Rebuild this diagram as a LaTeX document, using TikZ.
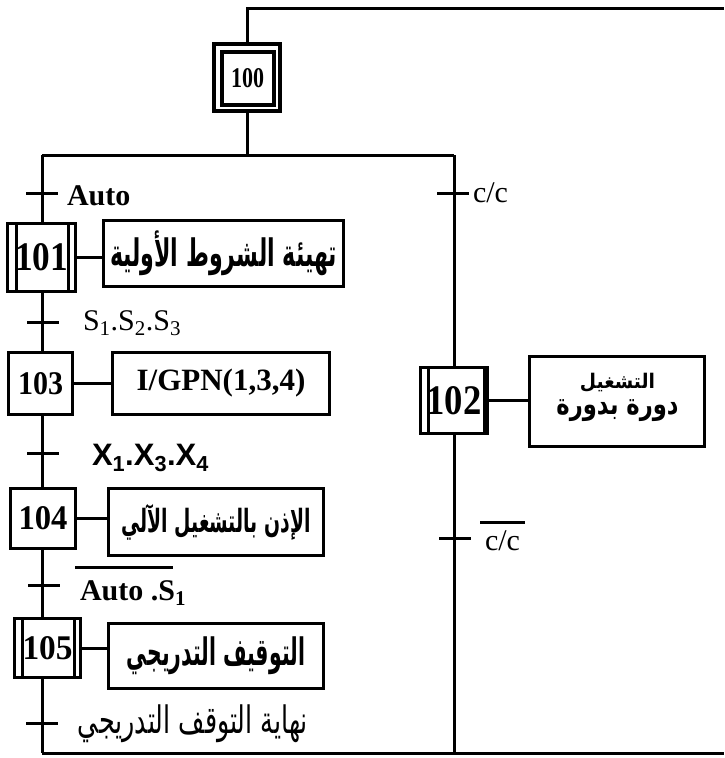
\documentclass[tikz,border=0pt]{standalone}
\usepackage{fontspec}
\usepackage{graphicx}
\setmainfont{Liberation Serif}
\newfontfamily\arabicfont[Script=Arabic]{DejaVu Sans}
\newfontfamily\arialfont{Liberation Sans}
\TeXXeTstate=1
\newcommand\artxt[3]{\resizebox*{#1}{#2}{\arabicfont #3}}
\newcommand\artxtb[3]{\resizebox*{#1}{#2}{\arabicfont\bfseries #3}}
\newcommand\stepnum[3]{\resizebox{#1}{#2}{\bfseries #3}}
\begin{document}
\begin{tikzpicture}[x=1pt,y=-1pt,line width=3pt,
  stepbox/.style={draw,line width=3pt,inner sep=0pt,outer sep=0pt,rectangle},
  actbox/.style={draw,line width=3pt,inner sep=0pt,outer sep=0pt,rectangle},
  tick/.style={fill=black,inner sep=0pt,outer sep=0pt,minimum height=3pt,minimum width=32pt},
  lbl/.style={inner sep=0pt,outer sep=0pt,anchor=base west}]
\useasboundingbox (0,0) rectangle (724,758);

% initial step 100
\node[draw,line width=4pt,inner sep=0pt,outer sep=0pt,minimum width=66pt,minimum height=67pt] (s100o) at (247,77) {};
\node[draw,line width=4pt,inner sep=0pt,outer sep=0pt,minimum width=52pt,minimum height=53pt] (s100) at (247.5,78) {\stepnum{33pt}{19pt}{100}};

% steps
\node[stepbox,minimum width=68pt,minimum height=68pt] (s101) at (41.5,257.5) {\stepnum{53pt}{27pt}{101}};
\node[stepbox,minimum width=64pt,minimum height=62pt] (s103) at (40.5,383.5) {\stepnum{45pt}{22pt}{103}};
\node[stepbox,minimum width=65pt,minimum height=60pt] (s104) at (43,518.5) {\stepnum{49pt}{23pt}{104}};
\node[stepbox,minimum width=66pt,minimum height=59pt] (s105) at (47.5,648) {\stepnum{50pt}{23pt}{105}};
\node[stepbox,minimum width=67pt,minimum height=66pt] (s102) at (454,400.5) {\stepnum{55pt}{28pt}{102}};

% double bars of macro steps
\draw ([xshift=8.5pt]s101.north west) -- ([xshift=8.5pt]s101.south west);
\draw ([xshift=-7.5pt]s101.north east) -- ([xshift=-7.5pt]s101.south east);
\draw ([xshift=7.5pt]s105.north west) -- ([xshift=7.5pt]s105.south west);
\draw ([xshift=-6.5pt]s105.north east) -- ([xshift=-6.5pt]s105.south east);
\draw ([xshift=7.5pt]s102.north west) -- ([xshift=7.5pt]s102.south west);
\draw ([xshift=-3pt]s102.north east) -- ([xshift=-3pt]s102.south east);

% action boxes
\node[actbox,minimum width=240pt,minimum height=66pt] (a101) at (223.5,253.5) {\artxtb{227pt}{45pt}{\beginR تهيئة الشروط الأولية\endR}};
\node[actbox,minimum width=217pt,minimum height=62pt,font=\bfseries\fontsize{31}{36}\selectfont] (a103) at (221,383.5) {I/GPN(1,3,4)};
\node[actbox,minimum width=215pt,minimum height=67pt] (a104) at (216,522) {\artxtb{189pt}{36pt}{\beginR الإذن بالتشغيل الآلي\endR}};
\node[actbox,minimum width=215pt,minimum height=65pt] (a105) at (216,656) {\artxtb{178pt}{38pt}{\beginR التوقيف التدريجي\endR}};
\node[actbox,minimum width=175pt,minimum height=90pt] (a102) at (617,401.5) {};
\node[inner sep=0pt] (a102t1) at (617.5,382.2) {\artxtb{75pt}{19pt}{\beginR التشغيل\endR}};
\node[inner sep=0pt] (a102t2) at (617.5,410.5) {\artxtb{122pt}{22pt}{\beginR دورة بدورة\endR}};

% coordinates of the structure
\coordinate (topR) at (724,8);
\coordinate (splitC) at (247,155);
\coordinate (splitL) at (42,155);
\coordinate (splitR) at (454,155);
\coordinate (botL) at (42,753);
\coordinate (botR) at (724,753);

% links
\draw (s100o.north) |- (topR);
\draw (s100o.south) -- (splitC);
\draw (splitL) -- (splitR);
\draw (splitL) -- (splitL |- s101.north);
\draw (splitL |- s101.south) -- (splitL |- s103.north);
\draw (splitL |- s103.south) -- (splitL |- s104.north);
\draw (splitL |- s104.south) -- (splitL |- s105.north);
\draw (splitL |- s105.south) -- (botL);
\draw (botL) -- (botR);
\draw (splitR) -- (s102.north);
\draw (s102.south) -- (splitR |- botL);

% step-action links
\draw (s101.east) -- (s101.east -| a101.west);
\draw (s103.east) -- (s103.east -| a103.west);
\draw (s104.east) -- (s104.east -| a104.west);
\draw (s105.east) -- (s105.east -| a105.west);
\draw (s102.east) -- (s102.east -| a102.west);

% transitions
\node[tick] (tA) at (42,193) {};
\node[tick] (tS) at (42.5,322) {};
\node[tick] (tX) at (43,453) {};
\node[tick] (tAS) at (44,585) {};
\node[tick] (tE) at (42,723) {};
\node[tick] (tC) at (453,193) {};
\node[tick] (tCb) at (455,538) {};

% transition labels
\node[lbl,font=\bfseries\fontsize{30}{36}\selectfont] (lA) at (67,205) {Auto};
\node[lbl,font=\fontsize{30}{36}\selectfont] (lS) at (83,330) {S\textsubscript{1}.S\textsubscript{2}.S\textsubscript{3}};
\node[lbl,font=\arialfont\bfseries\fontsize{31}{36}\selectfont] (lX) at (92,465) {X\textsubscript{1}.X\textsubscript{3}.X\textsubscript{4}};
\node[lbl,font=\bfseries\fontsize{30}{36}\selectfont] (lAS) at (80,600) {Auto .S\textsubscript{1}};
\draw (75,567) -- (173,567);
\node[inner sep=0pt] (lE) at (193,724) {\artxt{230pt}{38pt}{\beginR نهاية التوقف التدريجي\endR}};
\node[lbl,font=\fontsize{30}{36}\selectfont] (lC) at (473,202) {c/c};
\node[lbl,font=\fontsize{30}{36}\selectfont] (lCb) at (485,550) {c/c};
\draw (480,522) -- (525,522);
\end{tikzpicture}
\end{document}
